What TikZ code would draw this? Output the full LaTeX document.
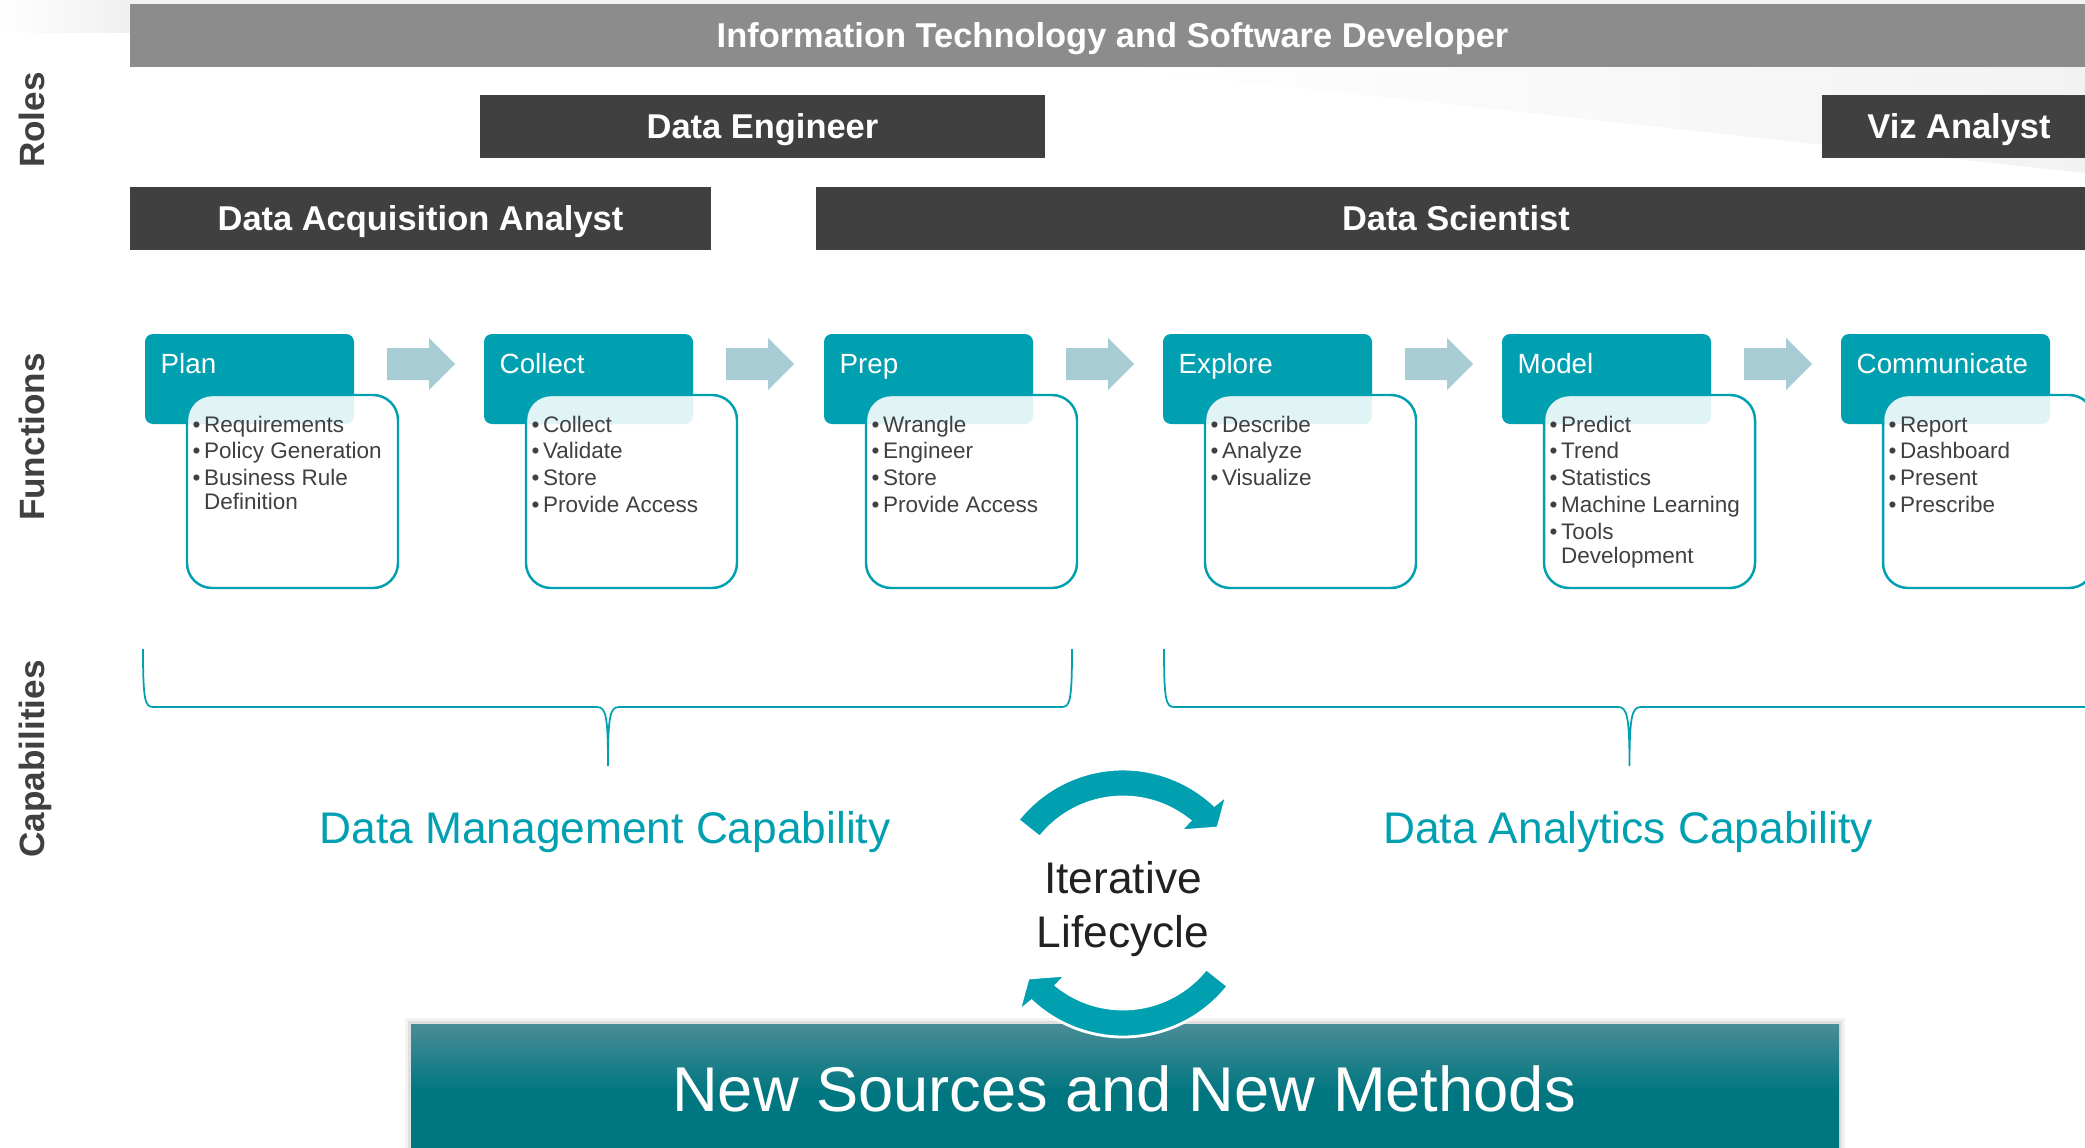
\documentclass[tikz,border=0pt]{standalone}
\usepackage{fontspec}
\setmainfont{Liberation Sans}

\definecolor{lifeteal}{RGB}{0,160,177}
\definecolor{chevblue}{RGB}{168,204,212}
\definecolor{roledark}{RGB}{64,64,64}
\definecolor{rolegray}{RGB}{140,140,140}
\definecolor{txtgray}{RGB}{64,64,64}
\definecolor{bartop}{RGB}{74,140,150}
\definecolor{barbot}{RGB}{0,118,128}

\tikzset{
	rolebox/.style={fill=roledark, text=white, font=\fontsize{9.8}{12}\selectfont\bfseries, minimum height=6.3mm, inner sep=0pt, text height=7pt, text depth=0pt},
	sidelabel/.style={rotate=90, text=txtgray, font=\fontsize{10}{12}\selectfont\bfseries, inner sep=0pt, text height=7.2pt, text depth=0pt},
	headtext/.style={anchor=base west, inner sep=0pt, text=white, font=\fontsize{7.9}{9.5}\selectfont},
	listbox/.style={draw=lifeteal, line width=0.7pt, fill=white, fill opacity=0.88, rounded corners=2.5mm},
	listtext/.style={anchor=base west, inner sep=0pt, text=txtgray, font=\fontsize{6.4}{6.6}\selectfont},
	chevron/.style={fill=chevblue},
	bracket/.style={draw=lifeteal, line width=0.5pt},
	captext/.style={anchor=base, inner sep=0pt, text=lifeteal, font=\fontsize{12.6}{15}\selectfont},
	cyclearrow/.style={fill=lifeteal, draw=white, line width=0.8pt}
}

\newcommand{\stage}[4]{%
	\fill[lifeteal, rounded corners=0.8mm] (#1,334) rectangle ++(209,90);
	\node[headtext] (#2) at (#1+15,373) {#3};
	\draw[listbox] (#1+42,395) rectangle ++(211,193);
	\node[listtext] (#2-list) at (#1+47,432) {\begin{tabular}[t]{@{}l@{\hspace{1pt}}l@{}}#4\end{tabular}};%
}
\newcommand{\chev}[1]{%
	\fill[chevron] (#1,348) -- ++(42,0) -- ++(0,-10) -- ++(26,26) -- ++(-26,26) -- ++(0,-10) -- ++(-42,0) -- cycle;%
}
\newcommand{\cyclepath}{%
	(-141.7:134) arc[start angle=-141.7, end angle=-47, radius=134] -- (-46.1:150) -- (-38.3:121) -- (-51.6:92) -- (-51:106) arc[start angle=-51, end angle=-141.7, radius=106] -- cycle%
}

\begin{document}
\begin{tikzpicture}[x=0.1mm, y=-0.1mm]
	\clip (0,0) rectangle (2085,1148);
	\fill[white] (0,0) rectangle (2085,1148);
	\shade[left color=white, right color=black!6] (0,0) rectangle (130,33);
	\fill[black!5] (130,0) rectangle (2085,4);
	\shade[left color=white, right color=black!5] (1104,67) -- (2085,67) -- (2085,173) -- cycle;

	\node[rolebox, fill=rolegray, minimum width=196.5mm] (itdev) at (1112.5,35.5) {Information Technology and Software Developer};
	\node[rolebox, minimum width=56.5mm] (eng) at (762.5,126.5) {Data Engineer};
	\node[rolebox, minimum width=27.4mm] (viz) at (1959,126.5) {Viz Analyst};
	\node[rolebox, minimum width=58.1mm] (acq) at (420.5,218.5) {Data Acquisition Analyst};
	\node[rolebox, minimum width=128mm] (sci) at (1456,218.5) {Data Scientist};

	\node[sidelabel] (roles) at (32,120) {Roles};
	\node[sidelabel] (functions) at (32,437) {Functions};
	\node[sidelabel] (capab) at (32,759) {Capabilities};

	\stage{145}{plan}{Plan}{\textbullet & Requirements\\[1.05pt] \textbullet & Policy Generation\\[1.05pt] \textbullet & Business Rule\\ & Definition}
	\stage{484}{collect}{Collect}{\textbullet & Collect\\[1.05pt] \textbullet & Validate\\[1.05pt] \textbullet & Store\\[1.05pt] \textbullet & Provide Access}
	\stage{824}{prep}{Prep}{\textbullet & Wrangle\\[1.05pt] \textbullet & Engineer\\[1.05pt] \textbullet & Store\\[1.05pt] \textbullet & Provide Access}
	\stage{1163}{explore}{Explore}{\textbullet & Describe\\[1.05pt] \textbullet & Analyze\\[1.05pt] \textbullet & Visualize}
	\stage{1502}{model}{Model}{\textbullet & Predict\\[1.05pt] \textbullet & Trend\\[1.05pt] \textbullet & Statistics\\[1.05pt] \textbullet & Machine Learning\\[1.05pt] \textbullet & Tools\\ & Development}
	\stage{1841}{comm}{Communicate}{\textbullet & Report\\[1.05pt] \textbullet & Dashboard\\[1.05pt] \textbullet & Present\\[1.05pt] \textbullet & Prescribe}

	\chev{387}
	\chev{726}
	\chev{1066}
	\chev{1405}
	\chev{1744}

	\draw[bracket] (143,649) .. controls (143,700) and (145,707) .. (153,707) -- (597,707) .. controls (606,707) and (608,716) .. (608,766) .. controls (608,716) and (610,707) .. (619,707) -- (1062,707) .. controls (1070,707) and (1072,700) .. (1072,649);
	\draw[bracket] (1164,649) .. controls (1164,700) and (1166,707) .. (1174,707) -- (1618,707) .. controls (1627,707) and (1629.5,716) .. (1629.5,766) .. controls (1629.5,716) and (1632,707) .. (1641,707) -- (2085,707) .. controls (2093,707) and (2095,700) .. (2095,649);

	\node[captext] (mgmt) at (605,843) {Data Management Capability};
	\node[captext] (analytics) at (1628,843) {Data Analytics Capability};

	\begin{scope}[shift={(1123,903)}]
		\path[cyclearrow] \cyclepath;
	\end{scope}
	\node[anchor=base, align=center, inner sep=0pt, text=black!87, font=\fontsize{12.6}{15.2}\selectfont] (cycle) at (1123,947) {Iterative\\Lifecycle};

	\fill[black, opacity=0.05] (405,1018) rectangle (1845,1160);
	\fill[black, opacity=0.08] (408,1021) rectangle (1842,1160);
	\shade[top color=bartop, bottom color=barbot, middle color=barbot] (411,1024) rectangle (1839,1160);
	\begin{scope}[shift={(1123,903)}, rotate=180]
		\path[cyclearrow] \cyclepath;
	\end{scope}
	\node[anchor=base, inner sep=0pt, text=white, font=\fontsize{18}{22}\selectfont] (sources) at (1124,1111) {New Sources and New Methods};
\end{tikzpicture}
\end{document}
